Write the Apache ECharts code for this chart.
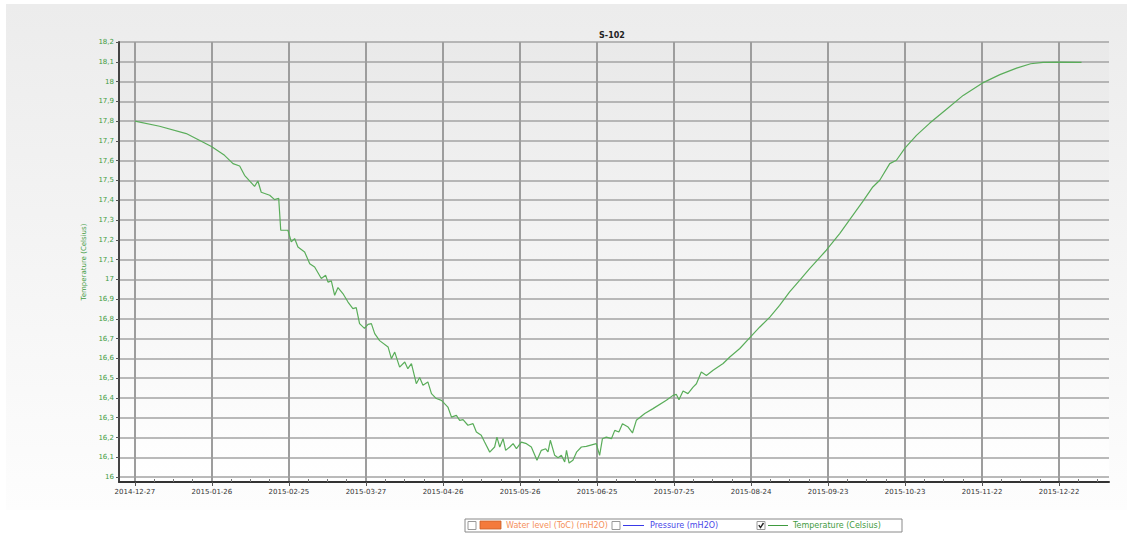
<!DOCTYPE html>
<html>
<head>
<meta charset="utf-8">
<script src="https://cdn.jsdelivr.net/npm/echarts@6/dist/echarts.min.js"></script>
<style>
html,body{margin:0;padding:0;background:#fff;}
#chart{width:1133px;height:536px;}
</style>
</head>
<body>
<div id="chart"></div>
<script>
// ---- data (x = days since 2014-12-27) ----
const chartTitle = 'S-102';
const startDate = '2014-12-27';
const tickDays = [0, 30, 60, 90, 120, 150, 180, 210, 240, 270, 300, 330, 360];
const tickLabels = ['2014-12-27', '2015-01-26', '2015-02-25', '2015-03-27', '2015-04-26', '2015-05-26',
  '2015-06-25', '2015-07-25', '2015-08-24', '2015-09-23', '2015-10-23', '2015-11-22', '2015-12-22'];
const minorDays = [7.5, 15, 22.5, 37.5, 45, 52.5, 67.5, 75, 82.5, 97.5, 105, 112.5, 127.5, 135, 142.5,
  157.5, 165, 172.5, 187.5, 195, 202.5, 217.5, 225, 232.5, 247.5, 255, 262.5, 277.5, 285, 292.5,
  307.5, 315, 322.5, 337.5, 345, 352.5, 367.5, 375];
const yTicks = [16, 16.1, 16.2, 16.3, 16.4, 16.5, 16.6, 16.7, 16.8, 16.9, 17, 17.1, 17.2, 17.3, 17.4,
  17.5, 17.6, 17.7, 17.8, 17.9, 18, 18.1, 18.2];
const days = [0, 9.6, 20.0, 29.8, 34.9, 38.2, 40.8, 42.7, 46.6, 47.9, 49.2, 52.5, 54.4, 56.0, 56.8, 59.6,
  60.9, 62.2, 63.5, 66.1, 68.1, 70.0, 72.6, 74.3, 75.2, 76.5, 77.8, 79.1, 81.0, 83.0, 84.9, 86.2,
  87.5, 89.4, 90.8, 92.1, 93.4, 95.3, 98.6, 99.9, 101.2, 103.1, 105.1, 106.3, 107.7, 109.6, 110.9, 112.2,
  114.1, 115.5, 117.4, 119.4, 120.6, 121.9, 123.3, 125.2, 126.5, 127.8, 129.7, 131.7, 133.0, 134.9,
  136.2, 138.2, 140.1, 141.0, 142.1, 143.4, 144.4, 146.0, 147.3, 148.6, 150.5, 152.5, 154.4, 156.6,
  158.3, 160.0, 160.9, 161.8, 163.5, 164.8, 166.1, 167.4, 168.1, 169.1, 170.6, 172.0, 173.9, 175.8,
  179.7, 181.0, 182.1, 183.6, 185.6, 186.9, 188.5, 189.9, 192.1, 193.8, 195.3, 198.6, 201.8, 207.0,
  209.6, 210.9, 211.9, 213.5, 215.4, 217.4, 218.7, 220.6, 222.6, 225.2, 229.1, 231.7, 235.6, 239.5,
  243.4, 247.3, 251.1, 255.0, 258.9, 262.8, 269.3, 274.5, 281.0, 283.6, 287.4, 290.1, 294.0, 296.6,
  300.0, 304.4, 309.6, 316.1, 322.6, 330.0, 336.9, 343.4, 348.9, 353.7, 360.2, 368.7];
const temps = [17.800, 17.774, 17.737, 17.672, 17.627, 17.585, 17.573, 17.526, 17.470, 17.497, 17.440, 17.425,
  17.403, 17.410, 17.248, 17.248, 17.189, 17.206, 17.163, 17.138, 17.079, 17.062, 17.004, 17.020,
  16.986, 16.992, 16.919, 16.958, 16.928, 16.885, 16.852, 16.857, 16.776, 16.752, 16.772, 16.776,
  16.725, 16.690, 16.658, 16.599, 16.632, 16.556, 16.582, 16.548, 16.574, 16.472, 16.503, 16.464,
  16.481, 16.422, 16.397, 16.388, 16.371, 16.354, 16.303, 16.312, 16.287, 16.290, 16.262, 16.270,
  16.228, 16.211, 16.177, 16.126, 16.152, 16.202, 16.152, 16.194, 16.135, 16.152, 16.169, 16.144,
  16.177, 16.169, 16.152, 16.085, 16.135, 16.143, 16.127, 16.186, 16.110, 16.098, 16.110, 16.076,
  16.135, 16.071, 16.085, 16.126, 16.152, 16.155, 16.169, 16.110, 16.194, 16.202, 16.194, 16.236,
  16.228, 16.270, 16.253, 16.223, 16.287, 16.321, 16.346, 16.388, 16.413, 16.418, 16.391, 16.435,
  16.422, 16.455, 16.472, 16.531, 16.514, 16.540, 16.574, 16.607, 16.650, 16.705, 16.759, 16.809,
  16.868, 16.936, 16.995, 17.054, 17.147, 17.231, 17.349, 17.395, 17.467, 17.501, 17.585, 17.602,
  17.665, 17.728, 17.790, 17.860, 17.930, 17.992, 18.035, 18.068, 18.090, 18.097, 18.098, 18.097];
const legendNames = ['Water level (ToC) (mH2O)', 'Pressure (mH2O)', 'Temperature (Celsius)'];
const yAxisName = 'Temperature (Celsius)';

// ---- chart ----
const X_MIN = -6.2, X_MAX = 379.4, Y_MIN = 15.975, Y_MAX = 18.2;
const FONT = 'DejaVu Sans';
const GREEN = '#3f9b3f';
const chart = echarts.init(document.getElementById('chart'), null, {renderer: 'svg'});
const gridBox = {left: 119, right: 24, top: 42, bottom: 54};

function checkbox(x, checked) {
  const g = [{type: 'rect', shape: {x: x, y: 521.5, width: 8, height: 8},
    style: {fill: '#fff', stroke: '#999', lineWidth: 1}}];
  if (checked) {
    g.push({type: 'polyline', shape: {points: [[x + 1.8, 525.2], [x + 3.5, 527.6], [x + 6.5, 523]]},
      style: {stroke: '#222', lineWidth: 1.4, fill: null}});
  }
  return g;
}

const legendGraphic = {
  type: 'group', z: 100,
  children: [
    {type: 'rect', shape: {x: 465, y: 519, width: 437, height: 13}, style: {fill: '#fff', stroke: '#8a8a8a', lineWidth: 1}},
    ...checkbox(468, false),
    {type: 'rect', shape: {x: 480, y: 521, width: 21, height: 8}, style: {fill: '#f47a3c', stroke: '#c8602a', lineWidth: 0.8}},
    {type: 'text', x: 506, y: 525.8, style: {text: legendNames[0], fill: '#f5905a', font: '8px ' + FONT, textVerticalAlign: 'middle'}},
    ...checkbox(612, false),
    {type: 'line', shape: {x1: 623, y1: 525.5, x2: 644, y2: 525.5}, style: {stroke: '#3a3ae8', lineWidth: 1}},
    {type: 'text', x: 650, y: 525.8, style: {text: legendNames[1], fill: '#4848e8', font: '8px ' + FONT, textVerticalAlign: 'middle'}},
    ...checkbox(757, true),
    {type: 'line', shape: {x1: 768, y1: 525.5, x2: 788, y2: 525.5}, style: {stroke: GREEN, lineWidth: 1}},
    {type: 'text', x: 793, y: 525.8, style: {text: legendNames[2], fill: GREEN, font: '8px ' + FONT, textVerticalAlign: 'middle'}}
  ]
};

const option = {
  animation: false,
  backgroundColor: '#ffffff',
  title: {
    text: chartTitle, left: 607, top: 26, textAlign: 'center',
    textStyle: {fontFamily: FONT, fontSize: 8, fontWeight: 'bold', color: '#222'}
  },
  graphic: [
    {type: 'rect', z: -10, silent: true, shape: {x: 6, y: 4, width: 1121, height: 506},
      style: {fill: new echarts.graphic.LinearGradient(0, 0, 0, 1, [
        {offset: 0, color: '#ececec'}, {offset: 1, color: '#fdfdfd'}])}},
    legendGraphic
  ],
  grid: [
    Object.assign({show: true, borderWidth: 0,
      backgroundColor: new echarts.graphic.LinearGradient(0, 0, 0, 1, [
        {offset: 0, color: '#e9e9e9'}, {offset: 1, color: '#ffffff'}])}, gridBox),
    Object.assign({show: false}, gridBox)
  ],
  xAxis: [{
    type: 'value', gridIndex: 0, min: X_MIN, max: X_MAX,
    axisLine: {show: true, onZero: false, lineStyle: {color: '#333', width: 2}},
    axisTick: {show: true, customValues: tickDays, length: 4, lineStyle: {color: '#555'}},
    axisLabel: {customValues: tickDays, margin: 6, fontFamily: FONT, fontSize: 7, color: '#333',
      formatter: v => tickLabels[tickDays.indexOf(v)] || ''},
    splitLine: {show: true, lineStyle: {color: '#9d9d9d', width: 2}}
  }, {
    type: 'value', gridIndex: 1, min: X_MIN, max: X_MAX,
    axisLine: {show: false},
    axisTick: {show: true, inside: true, customValues: minorDays, length: 3, lineStyle: {color: '#777'}},
    axisLabel: {show: false}, splitLine: {show: false}
  }],
  yAxis: [{
    type: 'value', gridIndex: 0, min: Y_MIN, max: Y_MAX,
    name: yAxisName, nameLocation: 'middle', nameRotate: 90, nameGap: 29,
    nameTextStyle: {color: GREEN, fontFamily: FONT, fontSize: 7},
    axisLine: {show: true, onZero: false, lineStyle: {color: '#444', width: 2}},
    axisTick: {show: true, customValues: yTicks, length: 3, lineStyle: {color: '#555'}},
    axisLabel: {customValues: yTicks, margin: 5, fontFamily: FONT, fontSize: 7, color: GREEN,
      formatter: v => String(Math.round(v * 10) / 10).replace('.', ',')},
    splitLine: {show: true, lineStyle: {color: '#a3a3a3', width: 1.6}}
  }, {
    type: 'value', gridIndex: 1, min: Y_MIN, max: Y_MAX, show: false
  }],
  series: [{
    type: 'line', name: legendNames[2], xAxisIndex: 0, yAxisIndex: 0,
    data: days.map((d, i) => [d, temps[i]]),
    showSymbol: false, symbol: 'none',
    lineStyle: {color: '#5aad5a', width: 1.2}
  }]
};
chart.setOption(option);
</script>
</body>
</html>
